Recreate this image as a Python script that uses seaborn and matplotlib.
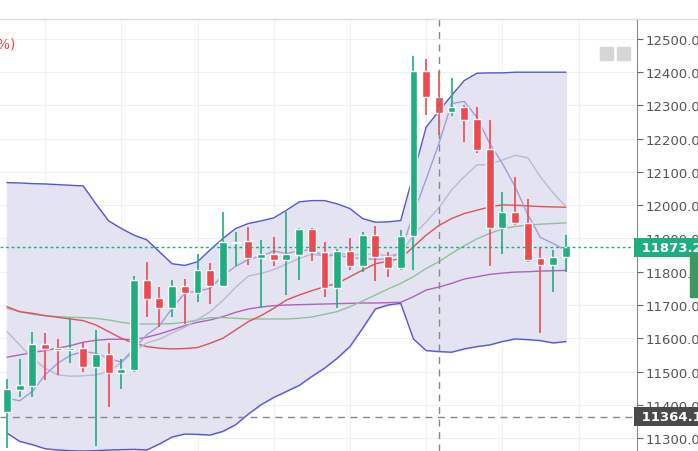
"""Candlestick chart with Bollinger bands and moving averages."""

import matplotlib.pyplot as plt
import matplotlib.ticker as mticker
import numpy as np
import pandas as pd
import seaborn as sns

# OHLC
opens = [11379, 11445, 11457, 11583, 11571, 11566, 11571, 11515, 11553, 11495,
         11506, 11776, 11721, 11692, 11757, 11737, 11805, 11758, 11885, 11891,
         11842, 11854, 11836, 11851, 11929, 11859, 11750, 11862, 11818, 11911,
         11848, 11810, 11906, 12403, 12325, 12280, 12295, 12260, 12169, 11933,
         11979, 11947, 11841, 11821, 11844]
closes = [11448, 11460, 11582, 11568, 11566, 11571, 11515, 11553, 11495, 11507,
          11776, 11718, 11692, 11757, 11736, 11805, 11758, 11890, 11890, 11842,
          11854, 11836, 11854, 11929, 11859, 11750, 11862, 11818, 11911, 11845,
          11810, 11907, 12403, 12325, 12278, 12295, 12257, 12166, 11933, 11979,
          11946, 11835, 11821, 11844, 11874]
highs = [11478, 11538, 11620, 11616, 11598, 11660, 11590, 11625, 11586, 11538,
         11788, 11830, 11754, 11776, 11778, 11854, 11826, 11980, 11919, 11934,
         11896, 11905, 11979, 11931, 11931, 11889, 11869, 11901, 11919, 11939,
         11859, 11926, 12450, 12440, 12405, 12382, 12300, 12295, 12257, 12041,
         12086, 12019, 11874, 11866, 11909]
lows = [11270, 11423, 11423, 11473, 11490, 11526, 11500, 11277, 11393, 11447,
        11500, 11663, 11634, 11663, 11643, 11708, 11703, 11755, 11818, 11821,
        11690, 11818, 11731, 11775, 11833, 11725, 11690, 11806, 11798, 11773,
        11783, 11806, 11805, 12270, 12212, 12269, 12191, 12157, 11818, 11853,
        11940, 11829, 11615, 11738, 11798]

# Bollinger bands
upper = [12068, 12067, 12065, 12064, 12062, 12060, 12058, 12004, 11953, 11930,
         11910, 11896, 11860, 11824, 11819, 11830, 11866, 11900, 11930, 11945,
         11953, 11962, 11985, 12010, 12014, 12014, 12004, 11990, 11960, 11949,
         11950, 11954, 12094, 12235, 12283, 12330, 12375, 12397, 12398, 12398,
         12400, 12400, 12400, 12400, 12400]
lower = [11315, 11290, 11280, 11268, 11264, 11262, 11261, 11262, 11264, 11265,
         11266, 11264, 11282, 11303, 11312, 11311, 11309, 11320, 11340, 11372,
         11400, 11422, 11440, 11458, 11485, 11510, 11540, 11575, 11630, 11688,
         11700, 11705, 11598, 11563, 11560, 11558, 11568, 11575, 11580, 11590,
         11598, 11596, 11593, 11586, 11590]

# moving averages
ma5 = [11420, 11412, 11440, 11490, 11525, 11549, 11560, 11555, 11540, 11528,
       11569, 11610, 11638, 11690, 11736, 11742, 11750, 11789, 11816, 11837,
       11847, 11862, 11855, 11863, 11866, 11846, 11851, 11842, 11840, 11837,
       11839, 11858, 11975, 12078, 12185, 12306, 12312, 12264, 12186, 12126,
       12056, 11972, 11903, 11885, 11864]
ma10 = [11620, 11580, 11540, 11510, 11490, 11486, 11487, 11490, 11500, 11527,
        11560, 11586, 11597, 11616, 11633, 11656, 11680, 11714, 11753, 11787,
        11795, 11806, 11823, 11840, 11853, 11847, 11858, 11850, 11852, 11853,
        11848, 11855, 11910, 11950, 11992, 12046, 12086, 12121, 12123, 12136,
        12150, 12143, 12085, 12037, 11996]
ma20 = [11695, 11680, 11675, 11668, 11663, 11658, 11653, 11640, 11620, 11600,
        11585, 11575, 11570, 11568, 11569, 11572, 11585, 11600, 11625, 11650,
        11668, 11690, 11715, 11730, 11743, 11755, 11765, 11785, 11805, 11824,
        11832, 11840, 11875, 11910, 11939, 11960, 11975, 11985, 11995, 12001,
        12000, 11998, 11996, 11995, 11994]
ma30 = [11690, 11680, 11672, 11668, 11665, 11663, 11662, 11660, 11655, 11648,
        11643, 11643, 11643, 11644, 11648, 11655, 11662, 11662, 11660, 11658,
        11658, 11658, 11658, 11660, 11664, 11672, 11680, 11695, 11712, 11730,
        11748, 11765, 11785, 11810, 11830, 11855, 11878, 11899, 11915, 11929,
        11936, 11940, 11943, 11945, 11947]
ma60 = [11543, 11550, 11557, 11563, 11570, 11578, 11588, 11594, 11597, 11597,
        11596, 11603, 11613, 11625, 11638, 11648, 11655, 11665, 11678, 11688,
        11694, 11698, 11700, 11701, 11702, 11703, 11704, 11705, 11706, 11706,
        11707, 11708, 11725, 11745, 11754, 11765, 11778, 11785, 11792, 11796,
        11799, 11800, 11802, 11803, 11804]

last_price = 11873.26
cross_price = 11364.16
cross_idx = 34
yticks = [11300, 11400, 11500, 11600, 11700, 11800, 11900, 12000, 12100,
          12200, 12300, 12400, 12500]

UP = "#1fae80"
DOWN = "#f0484f"
BAND = "#5757d6"

sns.set_style("white")
plt.rcParams["font.family"] = ["DejaVu Sans"]

df = pd.DataFrame({"idx": np.arange(len(closes)), "open": opens, "close": closes,
                   "high": highs, "low": lows, "upper": upper, "lower": lower,
                   "ma5": ma5, "ma10": ma10, "ma20": ma20, "ma30": ma30, "ma60": ma60})

fig = plt.figure(figsize=(6.98, 4.52), dpi=100)
ax = fig.add_axes([0, 0, 637 / 698, 1 - 20 / 452])

# grid
for y in yticks:
    ax.axhline(y, color="#f0f0f2", lw=0.8, zorder=0)
for x in [3, 9, 15, 21, 27, 33, 39, 45]:
    ax.axvline(x, color="#f0f0f2", lw=0.8, zorder=0)

# bollinger band
ax.fill_between(df["idx"], df["lower"], df["upper"], color="#e3e3f1", zorder=1)
sns.lineplot(data=df, x="idx", y="upper", color=BAND, lw=1, ax=ax, zorder=2)
sns.lineplot(data=df, x="idx", y="lower", color=BAND, lw=1, ax=ax, zorder=2)

# moving averages
ma_styles = [("ma60", "#b062b8"), ("ma30", "#8fc29a"), ("ma20", "#e0505a"),
             ("ma10", "#b9bad4"), ("ma5", "#a59bdc")]
for col, c in ma_styles:
    sns.lineplot(data=df, x="idx", y=col, color=c, lw=1, ax=ax, zorder=3)

# candles
colors = np.where(df["close"] >= df["open"], UP, DOWN)
ax.vlines(df["idx"], df["low"], df["high"], colors=colors, lw=1.2, zorder=4)
body_lo = np.minimum(df["open"], df["close"])
body_h = np.maximum(np.abs(df["close"] - df["open"]), 4)
ax.bar(df["idx"], body_h, bottom=body_lo, width=0.62, color=colors, zorder=5)

# crosshair and price lines
ax.axhline(last_price, color=UP, lw=1, ls=(0, (2, 2)), zorder=6)
ax.axhline(cross_price, color="#888888", lw=1, ls=(0, (5, 4)), zorder=6)
ax.axvline(cross_idx, color="#888888", lw=1, ls=(0, (5, 4)), zorder=6)

ax.set_xlim(-0.55, 49.6)
ax.set_ylim(11261, 12560)
ax.set_xlabel("")
ax.set_ylabel("")
ax.set_xticks([])
ax.yaxis.tick_right()
ax.set_yticks(yticks)
ax.yaxis.set_major_formatter(mticker.FormatStrFormatter("%.2f"))
ax.tick_params(axis="y", colors="#666666", labelcolor="#555555", labelsize=9.5,
               length=4, width=0.8, pad=2)
for side in ["top", "left", "bottom"]:
    ax.spines[side].set_visible(False)
ax.spines["right"].set_color("#888888")

# price tags on the axis
tag = dict(fontsize=9.5, fontweight="bold", color="white", va="center", ha="left")
ax.text(1.0, last_price, " 11873.26  ", transform=ax.get_yaxis_transform(),
        bbox=dict(boxstyle="square,pad=0.25", fc=UP, ec="none"), zorder=10, **tag)
ax.text(1.0, cross_price, " 11364.16  ", transform=ax.get_yaxis_transform(),
        bbox=dict(boxstyle="square,pad=0.25", fc="#4a4a4a", ec="none"), zorder=10, **tag)

# top border, legend fragment, small icons
fig.add_artist(plt.Line2D([0, 1], [1 - 20 / 452, 1 - 20 / 452], color="#dddddd", lw=1))
fig.text(16 / 698, 1 - 45 / 452, "(+0.26%)", ha="right", va="center",
         color="#f0484f", fontsize=10)
for x0 in [600, 617]:
    fig.add_artist(plt.Rectangle((x0 / 698, 1 - 61 / 452), 13 / 698, 13 / 452,
                                 color="#d6d6d6", transform=fig.transFigure))
fig.add_artist(plt.Rectangle((690 / 698, 1 - 298 / 452), 8 / 698, 44 / 452,
                             color="#3c9a5f", transform=fig.transFigure))

fig.savefig("out.png", dpi=100)
